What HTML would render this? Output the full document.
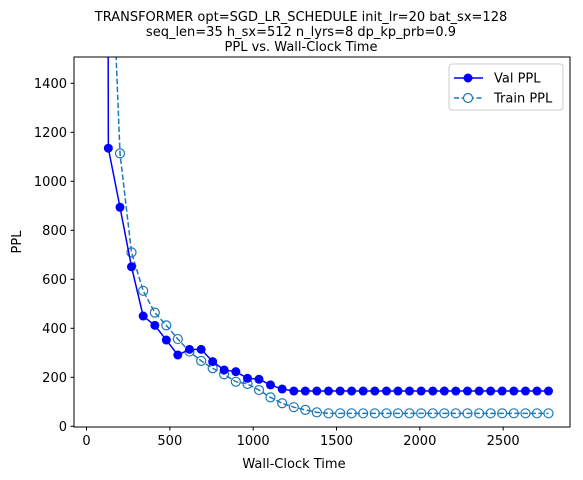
<!DOCTYPE html>
<html><head><meta charset="utf-8"><style>
body{margin:0;background:#fff;}
svg{display:block;font-family:"DejaVu Sans","Liberation Sans",sans-serif;}
</style></head><body>
<svg id="chart" width="583" height="480" viewBox="0 0 583 480">
<defs><clipPath id="clip"><rect x="74" y="57" width="496" height="370"/></clipPath></defs>
<rect x="0" y="0" width="583" height="480" fill="#fff"/>
<g font-size="13" text-anchor="middle" fill="#000">
<text x="301" y="21">TRANSFORMER opt=SGD_LR_SCHEDULE init_lr=20 bat_sx=128</text>
<text x="301" y="36">seq_len=35 h_sx=512 n_lyrs=8 dp_kp_prb=0.9</text>
<text x="301" y="51">PPL vs. Wall-Clock Time</text>
</g>
<g id="xticks"></g>
<g id="yticks"></g>
<g id="series" clip-path="url(#clip)"></g>
<rect x="74" y="57" width="496" height="370" fill="none" stroke="#000" stroke-width="1"/>
<text x="294" y="468" font-size="13" text-anchor="middle">Wall-Clock Time</text>
<text x="0" y="0" font-size="13" text-anchor="middle" transform="translate(21,242) rotate(-90)">PPL</text>
<g>
<rect x="449" y="64" width="114" height="46" rx="3" fill="#fff" stroke="#ccc"/>
<g>
<line x1="454" y1="78" x2="483" y2="78" stroke="#0000ff" stroke-width="1.5"/>
<circle cx="468" cy="78" r="4.5" fill="#0000ff"/>
<text x="494" y="82.5" font-size="13">Val PPL</text></g>
<g>
<line x1="454" y1="98" x2="483" y2="98" stroke="#1f77b4" stroke-width="1.5" stroke-dasharray="5,2.5"/>
<circle cx="468" cy="98" r="4.5" fill="#fff" stroke="#1f77b4" stroke-width="1.2"/>
<text x="494" y="102.5" font-size="13">Train PPL</text></g>
</g>
</svg>
<script>
const times = [62,131,201,270,340,410,479,548,618,688,757,826,896,966,1035,1104,1174,1244,1313,1382,1452,1522,1591,1660,1730,1800,1869,1938,2008,2078,2147,2216,2286,2356,2425,2494,2564,2634,2703,2772];
const valPPL = [30000,1135,894,651,450,412,352,291,314,314,264,230,223,196,192,169,152,144,144,144,144,144,144,144,144,144,144,144,144,144,144,144,144,144,144,144,144,144,144,144];
const trainPPL = [null,2300,1114,710,553,464,412,356,305,267,237,212,182,173,148,118,94,78,67,57,53,53,53,53,53,53,53,53,53,53,53,53,53,53,53,53,53,53,53,53];
const xTicks = [0,500,1000,1500,2000,2500];
const yTicks = [0,200,400,600,800,1000,1200,1400];
const NS="http://www.w3.org/2000/svg";
function xs(v){return 86.5+v*(83.33/500);}
function ys(v){return 426.3-v*0.245;}
function mk(t,a,p){const e=document.createElementNS(NS,t);for(const k in a)e.setAttribute(k,a[k]);p.appendChild(e);return e;}
const xg=document.getElementById('xticks'), yg=document.getElementById('yticks'), sg=document.getElementById('series');
xTicks.forEach(v=>{
  const x=xs(v);
  const l=mk('line',{x1:x,x2:x,y1:427,y2:430.5,stroke:'#000'},xg);
  
  
  const t=mk('text',{x:x,y:445,'font-size':13,'text-anchor':'middle'},xg);
  t.textContent=v;
  
  
});
yTicks.forEach(v=>{
  const y=ys(v);
  const l=mk('line',{x1:70.5,x2:74,y1:y,y2:y,stroke:'#000'},yg);
  
  
  const t=mk('text',{x:67,y:y+4.5,'font-size':13,'text-anchor':'end'},yg);
  t.textContent=v;
  
  
});
function pts(arr){return times.map((t,i)=>arr[i]==null?null:[xs(t),ys(arr[i])]).filter(p=>p);}
const tp=pts(trainPPL);
const tl=mk('polyline',{points:tp.map(p=>p.join(',')).join(' '),fill:'none',stroke:'#1f77b4','stroke-width':1.5,'stroke-dasharray':'5.5,2.5'},sg);


tp.forEach(p=>{
  const c=mk('circle',{cx:p[0],cy:p[1],r:4.5,fill:'none',stroke:'#1f77b4','stroke-width':1.2},sg);
  
  
});
const vp=pts(valPPL);
const vl=mk('polyline',{points:vp.map(p=>p.join(',')).join(' '),fill:'none',stroke:'#0000ff','stroke-width':1.5},sg);


vp.forEach(p=>{
  const c=mk('circle',{cx:p[0],cy:p[1],r:4.5,fill:'#0000ff'},sg);
  
  
});
</script>
</body></html>
